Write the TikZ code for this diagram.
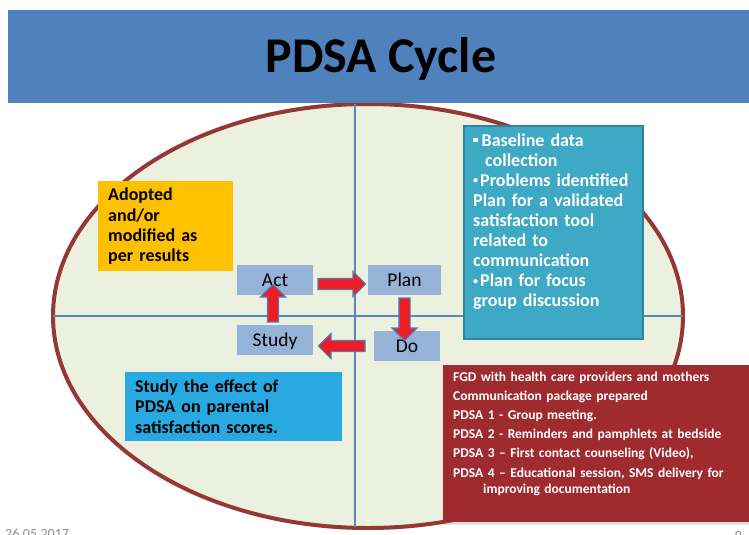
\documentclass[tikz,border=0pt]{standalone}
\usepackage{fontspec}
\setmainfont{Carlito}
\usetikzlibrary{shapes.arrows,calc,shadows}

\definecolor{titleblue}{HTML}{4F81BD}
\definecolor{ovalfill}{HTML}{EBF1DE}
\definecolor{ovaledge}{HTML}{953735}
\definecolor{axisblue}{HTML}{5B86BD}
\definecolor{adoptorange}{HTML}{FFC000}
\definecolor{cyclebluebox}{HTML}{95B3D7}
\definecolor{arrowred}{HTML}{EE1C25}
\definecolor{arrowedge}{HTML}{4A7EBB}
\definecolor{planteal}{HTML}{3EA9C5}
\definecolor{plantealedge}{HTML}{31849B}
\definecolor{resultred}{HTML}{A02B2F}
\definecolor{studycyan}{HTML}{29A9E1}
\definecolor{footergrey}{HTML}{8C8C8C}

\tikzset{
  cyclebox/.style={rectangle, fill=cyclebluebox, minimum height=30pt,
    text height=12pt, text depth=0pt, font=\fontsize{19.5}{22}\selectfont},
  cyclearrow/.style={single arrow, draw=arrowedge, fill=arrowred, line width=1.2pt,
    minimum width=24pt, single arrow head extend=7pt,
    single arrow head indent=0pt, inner xsep=0pt, inner ysep=5pt},
  notebox/.style={rectangle, inner xsep=10pt, align=left,
    font=\bfseries\fontsize{18}{20.2}\selectfont},
  notetext/.style={inner sep=0pt, align=left},
  footer/.style={inner sep=0pt, text=footergrey, font=\fontsize{14}{16}\selectfont}
}

% small round bullet
\newcommand\notebullet{{\fontsize{10}{10}\selectfont\raisebox{2.5pt}{•}}\hspace{2pt}}

% block arrow between two points
\newcommand\cyclearrowfromto[2]{%
  \path let \p1=#1, \p2=#2,
    \n1={veclen(\x2-\x1,\y2-\y1)}, \n2={atan2(\y2-\y1,\x2-\x1)} in
    node[cyclearrow, minimum height=\n1, rotate=\n2] at ($#1!0.5!#2$) {};}

\begin{document}
\begin{tikzpicture}[x=1pt, y=-1pt]
  \useasboundingbox (0,0) rectangle (749,535);

  % oval and axes
  \draw[fill=ovalfill, draw=ovaledge, line width=4pt] (368,316) ellipse [x radius=315, y radius=212];
  \draw[axisblue, line width=1.2pt] (53,316) -- (683,316);
  \draw[axisblue, line width=1.2pt] (355,104) -- (355,527);

  % title bar
  \fill[titleblue] (8,10) rectangle (749,103);
  \node[anchor=base, inner sep=0pt, font=\bfseries\fontsize{50}{56}\selectfont] (title) at (381,73) {PDSA Cycle};

  % notes
  \node[notebox, fill=adoptorange, text width=115pt, minimum height=90pt, anchor=north west]
    (adopt) at (98,181) {Adopted\\and/or\\modified as\\per results};
  \node[notebox, fill=studycyan, text width=197pt, minimum height=69pt, anchor=north west]
    (effect) at (125,372) {Study the effect of\\PDSA on parental\\satisfaction scores.};

  \node[rectangle, fill=planteal, draw=plantealedge, line width=2pt, minimum width=179pt,
    minimum height=213pt, anchor=north west] (plannote) at (463,125) {};
  \node[notetext, text=white, text width=165pt, anchor=base west,
    font=\bfseries\fontsize{18}{20.1}\selectfont] (plantext) at (473,146)
    {\rule[4pt]{4.5pt}{4.5pt}\hspace{4pt}Baseline data\\
     \hspace*{12pt}collection\\
     \notebullet Problems identified\\
     Plan for a validated\\
     satisfaction tool\\
     related to\\
     communication\\
     \notebullet Plan for focus\\
     group discussion};

  \node[rectangle, fill=resultred, minimum width=306pt, minimum height=157pt, anchor=north west,
    drop shadow={shadow xshift=1pt, shadow yshift=-3pt, opacity=0.25}] (donote) at (443,365) {};
  \node[notetext, text=white, text width=290pt, anchor=base west,
    font=\bfseries\fontsize{13.5}{16}\selectfont] (dotext) at (453,381)
    {FGD with health care providers and mothers\\[3.2pt]
     Communication package prepared\\[3.2pt]
     PDSA 1 - Group meeting.\\[3.2pt]
     PDSA 2 - Reminders and pamphlets at bedside\\[3.2pt]
     PDSA 3 – First contact counseling (Video),\\[3.2pt]
     PDSA 4 – Educational session, SMS delivery for\\
     \hspace*{30pt}improving documentation};

  % cycle
  \node[cyclebox, minimum width=76pt] (act) at (275,280) {Act};
  \node[cyclebox, minimum width=73pt] (plan) at (404.5,280) {Plan};
  \node[cyclebox, minimum width=76pt] (study) at (275,340) {Study};
  \node[cyclebox, minimum width=66pt] (do) at (407,346) {Do};

  \cyclearrowfromto{([xshift=2pt,yshift=-4pt]act.east)}{([xshift=-5pt,yshift=-4pt]plan.west)}
  \cyclearrowfromto{(plan.south)}{([yshift=-7pt]plan.south |- do.north)}
  \cyclearrowfromto{([xshift=-6pt]do.west)}{([xshift=8pt]study.east |- do.west)}
  \cyclearrowfromto{([xshift=-2pt]study.north)}{([xshift=-2pt,yshift=8pt]act.south)}

  % footer
  \node[footer, anchor=base west] (date) at (5,538) {26.05.2017};
  \node[footer, anchor=base east] (page) at (742,540) {9};
\end{tikzpicture}
\end{document}
